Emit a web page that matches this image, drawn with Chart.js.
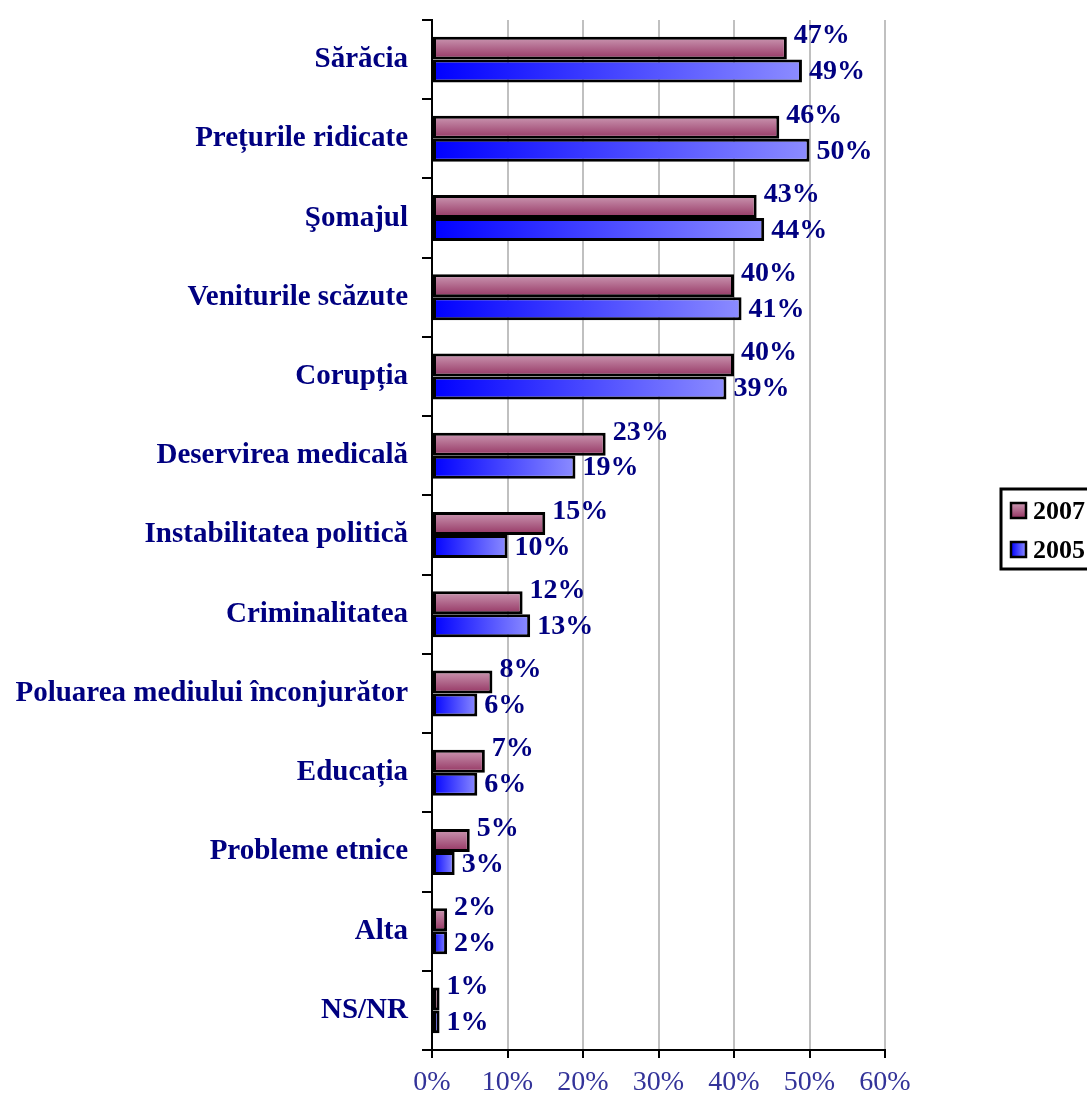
<!DOCTYPE html>
<html>
<head>
<meta charset="utf-8">
<script src="https://cdn.jsdelivr.net/npm/chart.js@4"></script>
<style>
  html, body { margin: 0; padding: 0; background: #fff; }
  #wrap { width: 1087px; height: 1104px; position: relative; }
</style>
</head>
<body>
<div id="wrap"><canvas id="chart"></canvas></div>
<script>
const categories = [
  'Sărăcia', 'Prețurile ridicate', 'Şomajul', 'Veniturile scăzute', 'Corupția',
  'Deservirea medicală', 'Instabilitatea politică', 'Criminalitatea',
  'Poluarea mediului înconjurător', 'Educația', 'Probleme etnice', 'Alta', 'NS/NR'
];
const values2007 = [47, 46, 43, 40, 40, 23, 15, 12, 8, 7, 5, 2, 1];
const values2005 = [49, 50, 44, 41, 39, 19, 10, 13, 6, 6, 3, 2, 1];
const xTicks = [0, 10, 20, 30, 40, 50, 60];

const FONT = "'Liberation Serif', 'Times New Roman', serif";
const CAT_PCT = 0.58;

function barHalf(scale) {
  return (scale.height / categories.length) * CAT_PCT / 2;
}

// 2007: vertical gradient pink -> maroon, per bar
function fill2007(ctx) {
  const chart = ctx.chart;
  if (ctx.type !== 'data' || !chart.chartArea) return '#b0607f';
  const y = chart.scales.y;
  const center = y.getPixelForValue(ctx.dataIndex);
  const top = center - barHalf(y);
  const g = chart.ctx.createLinearGradient(0, top, 0, center);
  g.addColorStop(0, '#cc99b3');
  g.addColorStop(1, '#943462');
  return g;
}

// 2005: horizontal gradient blue -> light blue, per bar
function fill2005(ctx) {
  const chart = ctx.chart;
  if (ctx.type !== 'data' || !chart.chartArea) return '#4444ff';
  const x = chart.scales.x;
  const x0 = x.getPixelForValue(0);
  const x1 = x.getPixelForValue(ctx.raw);
  const g = chart.ctx.createLinearGradient(x0, 0, Math.max(x1, x0 + 1), 0);
  g.addColorStop(0, '#0000ff');
  g.addColorStop(1, '#8c8cff');
  return g;
}

const valueLabels = {
  id: 'valueLabels',
  afterDatasetsDraw(chart) {
    const c = chart.ctx;
    c.save();
    c.font = 'bold 28px ' + FONT;
    c.fillStyle = '#000080';
    c.textAlign = 'left';
    c.textBaseline = 'middle';
    chart.data.datasets.forEach((ds, di) => {
      const meta = chart.getDatasetMeta(di);
      meta.data.forEach((bar, i) => {
        const dy = di === 0 ? -12 : 1;
        c.fillText(ds.data[i] + '%', bar.x + 7, bar.y + dy);
      });
    });
    c.restore();
  }
};

const boxLegend = {
  id: 'boxLegend',
  afterDraw(chart) {
    const c = chart.ctx;
    const area = chart.chartArea;
    const left = area.right + 116;
    const top = (area.top + area.bottom) / 2 - 46;
    c.save();
    c.lineWidth = 3;
    c.strokeStyle = '#000';
    c.fillStyle = '#fff';
    c.fillRect(left, top, 100, 80);
    c.strokeRect(left, top, 100, 80);
    const items = [
      { text: '2007', stops: ['#cc99b3', '#943462'], vertical: true },
      { text: '2005', stops: ['#0000ff', '#8c8cff'], vertical: false }
    ];
    items.forEach((it, k) => {
      const sy = top + 14 + k * 39;
      const sx = left + 10;
      const g = it.vertical
        ? c.createLinearGradient(0, sy, 0, sy + 15)
        : c.createLinearGradient(sx, 0, sx + 15, 0);
      g.addColorStop(0, it.stops[0]);
      g.addColorStop(1, it.stops[1]);
      c.fillStyle = g;
      c.fillRect(sx, sy, 15, 15);
      c.lineWidth = 2.5;
      c.strokeRect(sx, sy, 15, 15);
      c.fillStyle = '#000';
      c.font = 'bold 26px ' + FONT;
      c.textBaseline = 'middle';
      c.fillText(it.text, sx + 22, sy + 9);
    });
    c.restore();
  }
};

new Chart(document.getElementById('chart'), {
  type: 'bar',
  data: {
    labels: categories,
    datasets: [
      {
        label: '2007',
        data: values2007,
        backgroundColor: fill2007,
        borderColor: '#000',
        borderWidth: 3,
        borderSkipped: false,
        categoryPercentage: CAT_PCT,
        barPercentage: 1
      },
      {
        label: '2005',
        data: values2005,
        backgroundColor: fill2005,
        borderColor: '#000',
        borderWidth: 3,
        borderSkipped: false,
        categoryPercentage: CAT_PCT,
        barPercentage: 1
      }
    ]
  },
  options: {
    indexAxis: 'y',
    responsive: true,
    maintainAspectRatio: false,
    animation: false,
    layout: { padding: { top: 20, right: 202, left: 0, bottom: 0 } },
    scales: {
      x: {
        min: 0,
        max: 60,
        afterBuildTicks: (s) => { s.ticks = xTicks.map(v => ({ value: v })); },
        afterFit: (s) => { s.height = 54; },
        grid: {
          color: '#c0c0c0',
          lineWidth: 2,
          tickColor: '#000',
          tickLength: 8
        },
        border: { color: '#000', width: 2 },
        ticks: {
          callback: (v) => v + '%',
          color: '#333399',
          font: { family: FONT, size: 28 },
          padding: 8,
          maxRotation: 0
        }
      },
      y: {
        afterFit: (s) => { s.width = 432; s.paddingTop = 0; s.paddingBottom = 0; },
        grid: {
          offset: true,
          drawOnChartArea: false,
          tickColor: '#000',
          tickLength: 10,
          lineWidth: 2
        },
        border: { color: '#000', width: 2 },
        ticks: {
          color: '#000080',
          font: { family: FONT, size: 29, weight: 'bold' },
          padding: 14
        }
      }
    },
    plugins: {
      legend: { display: false },
      tooltip: { enabled: false }
    }
  },
  plugins: [valueLabels, boxLegend]
});
</script>
</body>
</html>
